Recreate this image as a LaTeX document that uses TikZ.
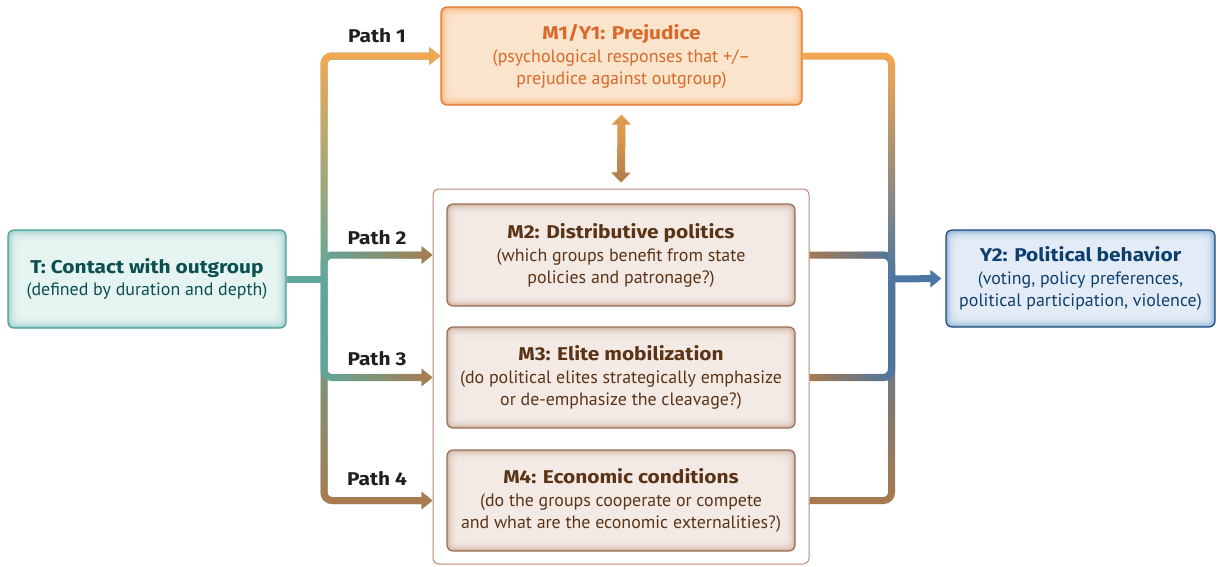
\documentclass[tikz,border=0pt]{standalone}
\usepackage{fontspec}
\setmainfont{PT Sans}
\newfontfamily\headfont{Fira Sans}[FakeStretch=1.13]
\usetikzlibrary{arrows.meta,fadings,calc}

% colours
\definecolor{tealLine}{HTML}{5FA79B}
\definecolor{orangeLine}{HTML}{F4A850}
\definecolor{brownLine}{HTML}{AA7B4E}
\definecolor{blueLine}{HTML}{4A76A3}
\definecolor{tealBorder}{HTML}{4B9C9C}
\definecolor{tealEdge}{HTML}{96CCC6}
\definecolor{tealCenter}{HTML}{ECF7F5}
\definecolor{tealText}{HTML}{0C4F50}
\definecolor{orBorder}{HTML}{E0742C}
\definecolor{orEdge}{HTML}{F7AE6A}
\definecolor{orCenter}{HTML}{FEE9D4}
\definecolor{orText}{HTML}{D8692B}
\definecolor{brBorder}{HTML}{9B6E58}
\definecolor{brEdge}{HTML}{CFB09F}
\definecolor{brCenter}{HTML}{F7F0EC}
\definecolor{brText}{HTML}{5B3416}
\definecolor{contBorder}{HTML}{B98A75}
\definecolor{blBorder}{HTML}{1E4A7A}
\definecolor{blEdge}{HTML}{89ADD2}
\definecolor{blCenter}{HTML}{EAF2FA}
\definecolor{blText}{HTML}{0E3F6E}
\definecolor{labelText}{HTML}{231F20}

% fadings for the two-tone connectors
\tikzfading[name=faderight, left color=transparent!100, right color=transparent!0]
\tikzfading[name=fadedown, top color=transparent!100, bottom color=transparent!0]
\tikzfading[name=fadedownearly, top color=transparent!100, middle color=transparent!15, bottom color=transparent!0]
\tikzfading[name=fadeup, bottom color=transparent!100, top color=transparent!0]
\tikzfading[name=fadeuplate, bottom color=transparent!100, middle color=transparent!88, top color=transparent!0]

\newcommand{\boxtitle}[1]{{\headfont\bfseries\fontsize{18.5}{22}\selectfont #1}}

\tikzset{
  glow/.style 2 args={fill=#1, path picture={
      \foreach \k in {1,...,12}{
        \fill[#2, fill opacity=0.22, rounded corners=6]
          ($(path picture bounding box.south west)+(\k*0.9,-\k*0.9)$)
          rectangle
          ($(path picture bounding box.north east)+(-\k*0.9,\k*0.9)$);
      }}},
  box/.style={rounded corners=6, line width=1.2, align=center, inner sep=0,
    font=\fontsize{17.9}{22}\selectfont},
  conn/.style={line width=7, rounded corners=8},
  tip/.style={-{Triangle[width=17,length=11]}},
  pathlbl/.style={font=\headfont\bfseries\fontsize{18.5}{20}\selectfont, text=labelText},
}

\begin{document}
\begin{tikzpicture}[x=1pt,y=-1pt]
\useasboundingbox (0,0) rectangle (1220,566);

% ---------- boxes ----------
\node[box, draw=contBorder, fill=white, line width=1, minimum width=376, minimum height=375]
  (cont) at (621,376.5) {};

\node[box, draw=tealBorder, glow={tealEdge}{tealCenter}, text=tealText,
  minimum width=278, minimum height=98] (t) at (147,279)
  {\boxtitle{T: Contact with outgroup}\\[0pt](defined by duration and depth)};

\node[box, draw=orBorder, glow={orEdge}{orCenter}, text=orText,
  minimum width=361, minimum height=98] (m1) at (621.5,56)
  {\boxtitle{M1/Y1: Prejudice}\\[1pt](psychological responses that +/–\\prejudice against outgroup)};

\node[box, draw=brBorder, glow={brEdge}{brCenter}, text=brText,
  minimum width=348, minimum height=102] (m2) at (621,255)
  {\boxtitle{M2: Distributive politics}\\[1pt](which groups benefit from state\\policies and patronage?)};

\node[box, draw=brBorder, glow={brEdge}{brCenter}, text=brText,
  minimum width=348, minimum height=101] (m3) at (621,377.5)
  {\boxtitle{M3: Elite mobilization}\\[1pt](do political elites strategically emphasize\\or de-emphasize the cleavage?)};

\node[box, draw=brBorder, glow={brEdge}{brCenter}, text=brText,
  minimum width=348, minimum height=101] (m4) at (621,500.5)
  {\boxtitle{M4: Economic conditions}\\[1pt](do the groups cooperate or compete\\and what are the economic externalities?)};

\node[box, draw=blBorder, glow={blEdge}{blCenter}, text=blText,
  minimum width=269, minimum height=97] (y2) at (1080.5,278.5)
  {\boxtitle{Y2: Political behavior}\\[1pt](voting, policy preferences,\\political participation, violence)};

% ---------- path labels ----------
\node[pathlbl] (p1) at (377,36) {Path 1};
\node[pathlbl] (p2) at (377,238) {Path 2};
\node[pathlbl] (p3) at (377,359) {Path 3};
\node[pathlbl] (p4) at (377,479) {Path 4};

% ---------- junctions ----------
\coordinate (jL) at (324,279);
\coordinate (jR) at (891.5,279);

% ---------- left fan-out ----------
\draw[conn, tip, tealLine] (jL) |- (m4.west -| cont.west);
\draw[conn, tip, brownLine, path fading=fadedown] (jL) |- (m4.west -| cont.west);

\draw[conn, tip, tealLine] (jL) |- (m3.west -| cont.west);
\draw[conn, tip, brownLine, path fading=faderight] (jL) |- (m3.west -| cont.west);

\draw[conn, tip, tealLine] (jL) |- (m2.west -| cont.west);
\draw[conn, tip, brownLine, path fading=faderight] (jL) |- (m2.west -| cont.west);

\draw[conn, tip, tealLine] (jL) |- (m1.west);
\draw[conn, tip, orangeLine, path fading=fadeuplate] (jL) |- (m1.west);

\draw[line width=7, tealLine] (t.east) -- (jL);

% ---------- right fan-in ----------
\draw[conn, brownLine] (m4.east -| cont.east) -| (jR);
\draw[conn, blueLine, path fading=fadeup] (m4.east -| cont.east) -| (jR);

\draw[conn, brownLine] (m3.east -| cont.east) -| (jR);
\draw[conn, blueLine, path fading=faderight] (m3.east -| cont.east) -| (jR);

\draw[conn, brownLine] (m2.east -| cont.east) -| (jR);
\draw[conn, blueLine, path fading=faderight] (m2.east -| cont.east) -| (jR);

\draw[conn, orangeLine] (m1.east) -| (jR);
\draw[conn, blueLine, path fading=fadedownearly] (m1.east) -| (jR);

\draw[line width=7, tip, blueLine, shorten >=4] (jR) -- (y2.west);

% ---------- two-way link between M1 and the mechanisms ----------
\draw[line width=8, orangeLine,
  {Triangle[width=19,length=10]}-{Triangle[width=19,length=10]},
  shorten <=9, shorten >=6] (m1.south) -- (cont.north);
\draw[line width=8, brownLine, path fading=fadedown,
  {Triangle[width=19,length=10]}-{Triangle[width=19,length=10]},
  shorten <=9, shorten >=6] (m1.south) -- (cont.north);
\end{tikzpicture}
\end{document}
